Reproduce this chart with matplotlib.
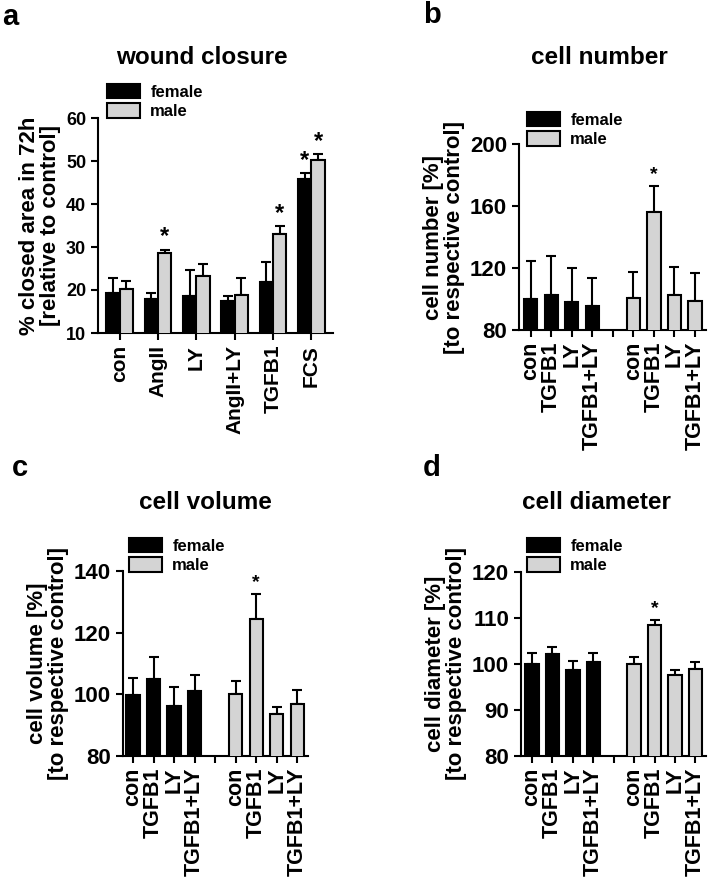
import numpy as np
import matplotlib
matplotlib.use("Agg")
import matplotlib.pyplot as plt
from matplotlib.patches import Patch

plt.rcParams['font.family'] = ['Liberation Sans', 'DejaVu Sans']
plt.rcParams['font.weight'] = 'bold'
plt.rcParams['axes.linewidth'] = 1.5

# panel a: wound closure
a_cats = ["con", "AngII", "LY", "AngII+LY", "TGFB1", "FCS"]
a_female = [19.2, 17.8, 18.5, 17.4, 21.9, 45.7]
a_female_err = [3.6, 1.6, 6.2, 1.3, 4.6, 1.4]
a_male = [20.2, 28.6, 23.2, 18.9, 33.1, 50.2]
a_male_err = [2.0, 0.8, 2.8, 4.0, 1.7, 1.4]
a_star_f = [False, False, False, False, False, True]
a_star_m = [False, True, False, False, True, True]

# panels b-d: four treatments, female then male
treat = ["con", "TGFB1", "LY", "TGFB1+LY"]

b_female = [100.0, 102.3, 97.8, 95.4]
b_female_err = [24.7, 25.4, 22.4, 17.9]
b_male = [100.6, 156.3, 102.6, 98.7]
b_male_err = [17.0, 16.6, 17.9, 18.3]

c_female = [99.8, 104.9, 96.2, 101.1]
c_female_err = [5.6, 7.1, 6.3, 5.1]
c_male = [100.1, 124.3, 93.5, 96.8]
c_male_err = [4.3, 8.2, 2.5, 4.6]

d_female = [99.9, 102.2, 98.6, 100.5]
d_female_err = [2.4, 1.6, 2.1, 2.0]
d_male = [100.0, 108.5, 97.6, 98.9]
d_male_err = [1.6, 1.1, 1.1, 1.6]

GRAY = '#d4d4d4'
W, H = 709, 885
fig = plt.figure(figsize=(W / 100, H / 100), dpi=100)


def px_axes(l, t, r, b):
    return fig.add_axes([l / W, 1 - b / H, (r - l) / W, (b - t) / H])


def style(ax, xfs, yfs):
    for s in ['top', 'right']:
        ax.spines[s].set_visible(False)
    ax.tick_params(axis='both', width=1.5, length=5)
    ax.tick_params(axis='x', labelsize=xfs)
    ax.tick_params(axis='y', labelsize=yfs)
    for lab in ax.get_yticklabels() + ax.get_xticklabels():
        lab.set_fontweight('bold')


def add_legend(ax, x, y):
    h = [Patch(facecolor='black', edgecolor='black', lw=1.5),
         Patch(facecolor=GRAY, edgecolor='black', lw=1.5)]
    ax.legend(h, ['female', 'male'], loc='upper left',
              bbox_to_anchor=(x / W, 1 - y / H), bbox_transform=fig.transFigure,
              frameon=False, prop={'size': 12, 'weight': 'bold'},
              handlelength=2.0, handleheight=0.95, handletextpad=0.6,
              labelspacing=0.2, borderaxespad=0, borderpad=0)


def bars(ax, x, vals, errs, color, width):
    ax.bar(x, vals, width, color=color, edgecolor='black', linewidth=1.5, zorder=3)
    ax.errorbar(x, vals, yerr=[np.zeros(len(vals)), errs], fmt='none',
                ecolor='black', elinewidth=1.5, capsize=3.5, capthick=1.5, zorder=2)


# ---- panel a
ax = px_axes(98, 118, 333, 333)
xa = np.arange(len(a_cats))
bw = 0.35
bars(ax, xa - bw / 2, a_female, a_female_err, 'black', bw)
bars(ax, xa + bw / 2, a_male, a_male_err, GRAY, bw)
for i in range(len(a_cats)):
    if a_star_f[i]:
        ax.text(xa[i] - bw / 2, a_female[i] + a_female_err[i] + 0.3, '*',
                ha='center', va='bottom', fontsize=17, fontweight='bold')
    if a_star_m[i]:
        ax.text(xa[i] + bw / 2, a_male[i] + a_male_err[i] + 0.3, '*',
                ha='center', va='bottom', fontsize=17, fontweight='bold')
ax.set_xlim(-0.565, len(a_cats) - 1 + 0.565)
ax.set_ylim(10, 60)
ax.set_yticks([10, 20, 30, 40, 50, 60])
ax.set_xticks(xa)
ax.set_xticklabels(a_cats, rotation=90)
ax.set_ylabel('% closed area in 72h\n[relative to control]', fontsize=16,
              fontweight='bold', labelpad=4, linespacing=1.0)
style(ax, 15, 13)
fig.text(202 / W, 1 - 57 / H, 'wound closure', ha='center', va='center',
         fontsize=17.5, fontweight='bold')
add_legend(ax, 107, 84)
fig.text(2 / W, 1 - 17 / H, 'a', ha='left', va='center', fontsize=21, fontweight='bold')


def panel4(box, fem, fem_err, mal, mal_err, ylim, yticks, ylabel, title, tpos,
           letter, lpos, legpos, margins):
    ax = px_axes(*box)
    xf = np.arange(4)
    xm = np.arange(5, 9)
    bw = 0.65
    bars(ax, xf, fem, fem_err, 'black', bw)
    bars(ax, xm, mal, mal_err, GRAY, bw)
    # significant: TGFB1 in male
    ax.text(xm[1], mal[1] + mal_err[1] + (ylim[1] - ylim[0]) * 0.015, '*',
            ha='center', va='bottom', fontsize=14, fontweight='bold')
    ax.set_xlim(-margins[0], 8 + margins[1])
    ax.set_ylim(*ylim)
    ax.set_yticks(yticks)
    ax.set_xticks(np.arange(9))
    ax.set_xticklabels(treat + [''] + treat, rotation=90)
    ax.set_ylabel(ylabel, fontsize=16, fontweight='bold', labelpad=4, linespacing=1.0)
    style(ax, 15.5, 16)
    fig.text(tpos[0] / W, 1 - tpos[1] / H, title, ha='center', va='center',
             fontsize=17.5, fontweight='bold')
    fig.text(lpos[0] / W, 1 - lpos[1] / H, letter, ha='left', va='center',
             fontsize=21, fontweight='bold')
    add_legend(ax, *legpos)
    return ax


panel4((519, 144, 706, 330), b_female, b_female_err, b_male, b_male_err,
       (80, 200), [80, 120, 160, 200], 'cell number [%]\n[to respective control]',
       'cell number', (599, 58), 'b', (423, 15), (527, 112), (0.57, 0.54))
panel4((123, 571, 308, 756), c_female, c_female_err, c_male, c_male_err,
       (80, 140), [80, 100, 120, 140], 'cell volume [%]\n[to respective control]',
       'cell volume', (205, 503), 'c', (12, 468), (129, 538), (0.49, 0.52))
panel4((521, 572, 706, 756), d_female, d_female_err, d_male, d_male_err,
       (80, 120), [80, 90, 100, 110, 120], 'cell diameter [%]\n[to respective control]',
       'cell diameter', (596, 503), 'd', (423, 468), (527, 538), (0.54, 0.52))

fig.savefig('out.png', dpi=100)
